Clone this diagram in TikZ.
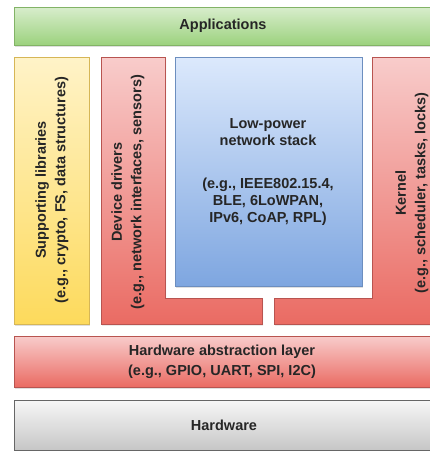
\documentclass[tikz,border=0pt]{standalone}
\usepackage{fontspec}
\setmainfont{Liberation Sans}
\usetikzlibrary{shadows}
\definecolor{gtop}{HTML}{D8EDCC}
\definecolor{gbot}{HTML}{9CD27E}
\definecolor{gline}{HTML}{82B366}
\definecolor{ytop}{HTML}{FFF3C8}
\definecolor{ybot}{HTML}{FDDA5C}
\definecolor{yline}{HTML}{D6B656}
\definecolor{rtop}{HTML}{F8CCCB}
\definecolor{rbot}{HTML}{EA6B63}
\definecolor{rline}{HTML}{B85450}
\definecolor{btop}{HTML}{DCE9FC}
\definecolor{bbot}{HTML}{7EA6E0}
\definecolor{bline}{HTML}{6C8EBF}
\definecolor{ktop}{HTML}{F7F7F7}
\definecolor{kbot}{HTML}{C6C6C6}
\definecolor{kline}{HTML}{666666}
\tikzset{
  layer/.style={line width=0.8pt, drop shadow={shadow xshift=1.2pt, shadow yshift=-1.5pt, opacity=0.25}},
  greenbox/.style={layer, draw=gline, top color=gtop, bottom color=gbot},
  yellowbox/.style={layer, draw=yline, top color=ytop, bottom color=ybot},
  redbox/.style={layer, draw=rline, top color=rtop, bottom color=rbot},
  bluebox/.style={layer, draw=bline, top color=btop, bottom color=bbot},
  graybox/.style={layer, draw=kline, top color=ktop, bottom color=kbot},
  lbl/.style={align=center, inner sep=0pt, text=black!85},
  vlbl/.style={lbl, rotate=90, font=\fontsize{14.5}{19.5}\selectfont\bfseries},
}
\begin{document}
\begin{tikzpicture}[x=1pt, y=-1pt, font=\fontsize{14.5}{17}\selectfont\bfseries]
\useasboundingbox (0,0) rectangle (430,451);
\clip (0,0) rectangle (430,451);

% Applications
\path[greenbox] (14,7) rectangle (434,45);
\node[lbl] (app) at (223,26) {Applications};

% Supporting libraries
\path[yellowbox] (14,57) rectangle (89,324);
\node[vlbl] (lib) at (52,190) {Supporting libraries\\(e.g., crypto, FS, data structures)};

% Device drivers (L-shape)
\path[redbox] (101,57) -- (165,57) -- (165,298) -- (262,298) -- (262,324) -- (101,324) -- cycle;
\node[vlbl] (drv) at (128,192) {Device drivers\\(e.g., network interfaces, sensors)};

% Network stack
\path[bluebox] (175,57) rectangle (362,286);
\node[lbl] (net) at (268,172) {Low-power\\network stack\\[26pt](e.g., IEEE802.15.4,\\BLE, 6LoWPAN,\\IPv6, CoAP, RPL)};

% Kernel (L-shape)
\path[redbox] (372,57) -- (440,57) -- (440,324) -- (274,324) -- (274,298) -- (372,298) -- cycle;
\node[vlbl] (ker) at (412,193) {Kernel\\(e.g., scheduler, tasks, locks)};

% Hardware abstraction layer
\path[redbox] (14,336) rectangle (434,387);
\node[lbl, font=\fontsize{14.5}{19.5}\selectfont\bfseries] (hal) at (222,362) {Hardware abstraction layer\\(e.g., GPIO, UART, SPI, I2C)};

% Hardware
\path[graybox] (14,400) rectangle (434,450);
\node[lbl] (hw) at (224,425) {Hardware};
\end{tikzpicture}
\end{document}
